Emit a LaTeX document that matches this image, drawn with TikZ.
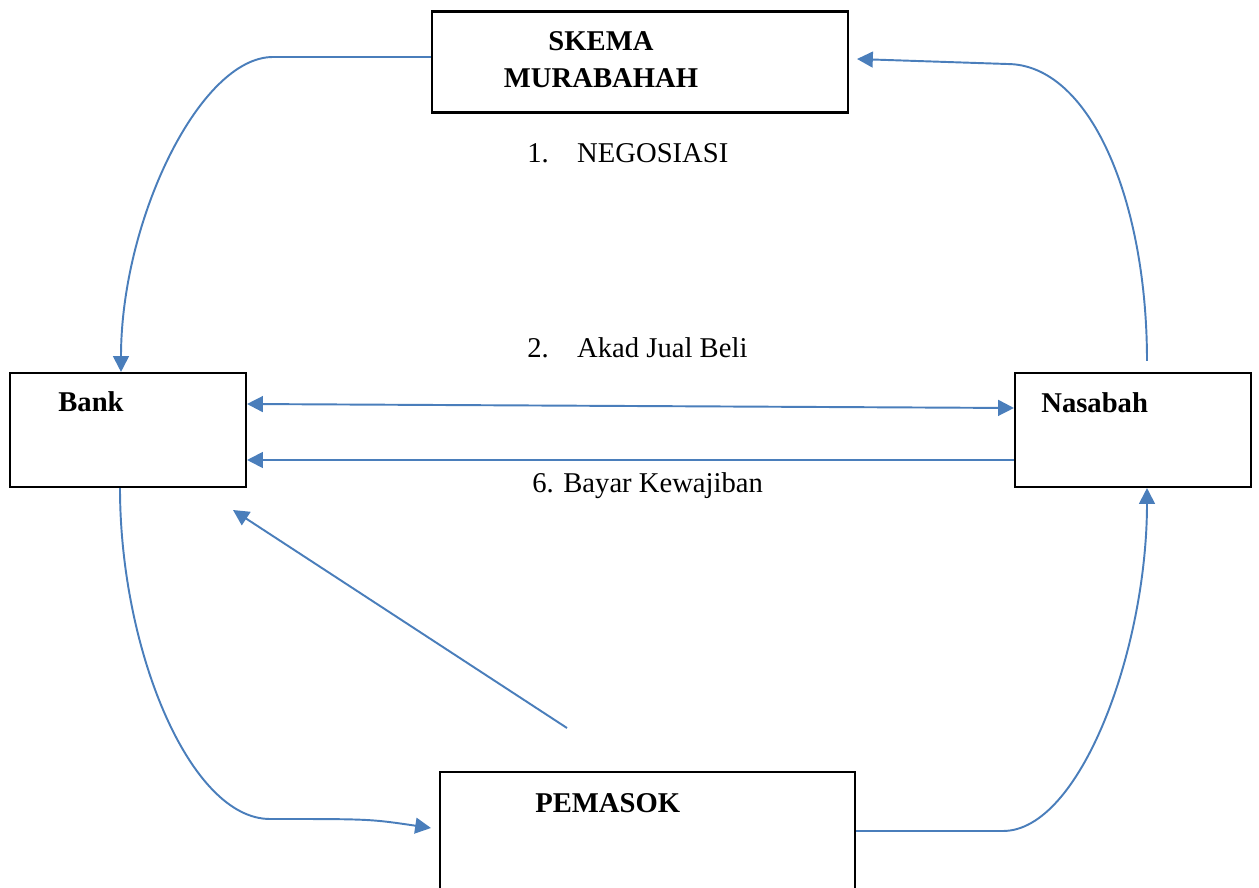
\documentclass[tikz,border=0pt]{standalone}
\usepackage{fontspec}
\setmainfont{Liberation Serif}
\usetikzlibrary{arrows.meta,calc}
\definecolor{biru}{RGB}{74,126,187}

\begin{document}
\begin{tikzpicture}[x=0.02cm, y=-0.02cm,
  kotak/.style={draw, line width=1.2pt, inner sep=0pt, minimum height=2.02cm},
  panah/.style={draw=biru, line width=1.1pt, -{Triangle[length=9pt,width=9pt]}},
  tulisan/.style={inner sep=0pt, anchor=base west, font=\fontsize{16.3}{21}\selectfont},
  tebal/.style={tulisan, font=\fontsize{16.3}{21}\selectfont\bfseries}]
\useasboundingbox (0,0) rectangle (1259,888);
\clip (0,0) rectangle (1259,888);
% Kotak
\node[kotak, minimum width=8.32cm] (skema) at (640,62) {};
\node[kotak, minimum width=4.72cm, minimum height=2.28cm] (bank) at (128,430) {};
\node[kotak, minimum width=4.72cm, minimum height=2.28cm] (nasabah) at (1133,430) {};
\node[kotak, minimum width=8.3cm, minimum height=2.6cm] (pemasok) at (647.5,837) {};
% Panah
\draw[panah] (skema.west |- 0,57) -- (273,57) .. controls (200,57) and (121,220) .. (bank.north -| 121,0);
\draw[panah] ($(nasabah.north)+(14,-11)$) .. controls (1147,200) and (1090,64) .. (1007,64) -- ($(skema.east)+(8,-3)$);
\draw[panah, {Triangle[length=9pt,width=9pt]}-{Triangle[length=9pt,width=9pt]}] (bank.east |- 0,404) -- (nasabah.west |- 0,408);
\draw[panah] (nasabah.west |- 0,460) -- (bank.east |- 0,460);
\draw[panah] (bank.south -| 120,0) .. controls (120,650) and (190,819) .. (270,819) .. controls (370,819) .. ($(pemasok.west |- 0,828)+(-8,0)$);
\draw[panah] (pemasok.east |- 0,831) -- (1003,831) .. controls (1080,831) and (1147,650) .. (nasabah.south -| 1147,0);
\coordinate (ekor) at (567,728);
\coordinate (kepala) at (233,510);
\draw[panah] (ekor) -- (kepala);
% Tulisan
\node[tebal, anchor=center, align=center] (tSkema) at (601,60) {SKEMA\\MURABAHAH};
\node[tebal] (tBank) at (58,412) {Bank};
\node[tebal] (tNasabah) at (1041,413) {Nasabah};
\node[tebal] (tPemasok) at (535,812) {PEMASOK};
\node[tulisan] (negosiasi) at (527,163) {\makebox[28.4pt][l]{1.}NEGOSIASI};
\node[tulisan] (akad) at (527,358) {\makebox[28.4pt][l]{2.}Akad Jual Beli};
\node[tulisan] (bayar) at (532,493) {6. Bayar Kewajiban};
\end{tikzpicture}
\end{document}
